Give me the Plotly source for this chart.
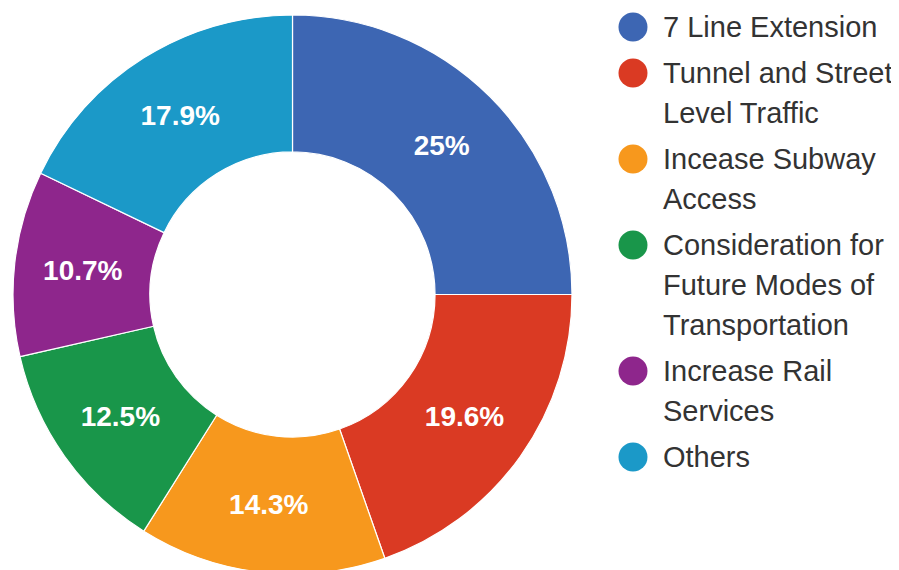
import plotly.graph_objects as go

labels = ["7 Line Extension", "Tunnel and Street Level Traffic", "Incease Subway Access",
          "Consideration for Future Modes of Transportation", "Increase Rail Services", "Others"]
legend_lines = [["7 Line Extension"], ["Tunnel and Street", "Level Traffic"],
                ["Incease Subway", "Access"], ["Consideration for", "Future Modes of", "Transportation"],
                ["Increase Rail", "Services"], ["Others"]]
values = [14, 11, 8, 7, 6, 10]
colors = ["#3D66B3", "#DA3A23", "#F7981D", "#19964A", "#8E268C", "#1B99C8"]

W, H = 899, 570
OFF = 8  # page body margin
FONT = "Liberation Sans, Arial, Helvetica, sans-serif"

# pie geometry in screen pixels
left, right, top = 13 - OFF, 572 - OFF, 15 - OFF
diam = right - left
bottom = top + diam

fig = go.Figure()
fig.add_trace(go.Pie(
    labels=labels, values=values, sort=False, direction="clockwise", rotation=0,
    hole=0.51, marker=dict(colors=colors, line=dict(color="white", width=1.2)),
    textinfo="percent", texttemplate="<b>%{percent:.3~p}</b>", textposition="inside",
    insidetextorientation="horizontal",
    textfont=dict(family=FONT, size=28, color="white"),
    domain=dict(x=[left / W, right / W], y=[(H - bottom) / H, (H - top) / H]),
    showlegend=False, hoverinfo="label+percent",
))

# custom legend (circles + text)
shapes = []
annotations = []
y = 27 - OFF
r = 14.5
cx = 633 - OFF
tx = 661 - OFF
for lines, c in zip(legend_lines, colors):
    shapes.append(dict(type="circle", xref="paper", yref="paper",
                       x0=(cx - r) / W, x1=(cx + r) / W,
                       y0=(H - y - r) / H, y1=(H - y + r) / H,
                       fillcolor=c, line=dict(width=0)))
    for k, t in enumerate(lines):
        annotations.append(dict(text=t, xref="paper", yref="paper",
                                x=tx / W, y=(H - (y + 40 * k)) / H,
                                xanchor="left", yanchor="middle", showarrow=False,
                                font=dict(family=FONT, size=29, color="#333333")))
    y += 46 + 40 * (len(lines) - 1)

fig.update_layout(width=W, height=H, margin=dict(l=0, r=0, t=0, b=0),
                  paper_bgcolor="white", plot_bgcolor="white",
                  shapes=shapes, annotations=annotations)
fig.write_html("out.html")
